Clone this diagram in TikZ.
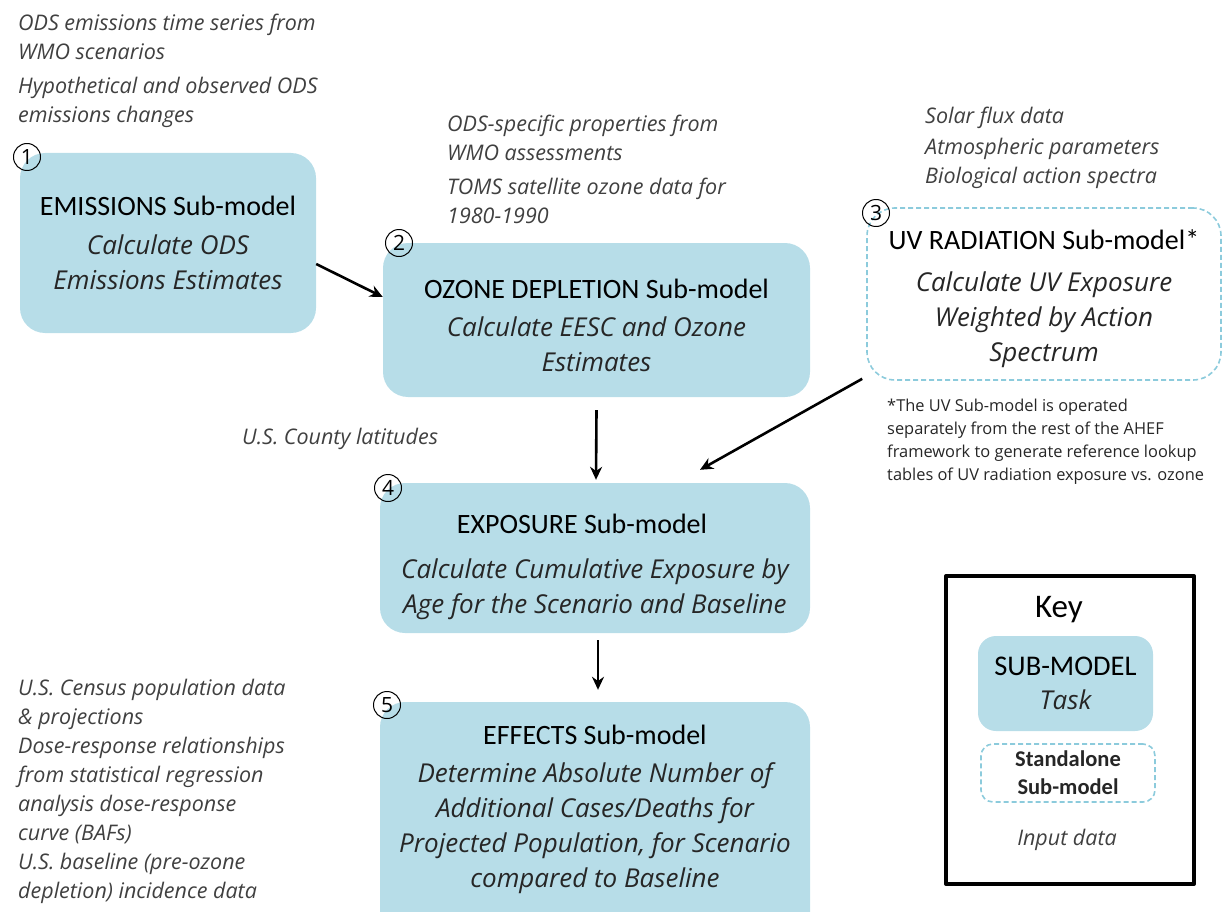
\documentclass[tikz,border=0pt]{standalone}
\usepackage{fontspec}
\setmainfont{Open Sans}
\newfontfamily\cali{Carlito}
\usetikzlibrary{positioning,calc,arrows.meta}
\definecolor{boxblue}{RGB}{183,221,232}
\definecolor{dashblue}{RGB}{140,203,220}
\definecolor{notegray}{RGB}{64,64,64}
\newcommand\taskfont{\itshape\fontsize{26}{35}\selectfont}
\newcommand\titlefont{\cali\upshape\color{black}\fontsize{28}{30}\selectfont}
\newcommand\notefont{\itshape\fontsize{21.5}{29}\selectfont}
\newcommand\numfont{\fontsize{21}{22}\selectfont}
\begin{document}
\begin{tikzpicture}[x=1pt, y=-1pt, line join=round, >={Stealth[length=13pt,width=12pt]},
	submodel/.style={fill=boxblue, rounded corners=25pt, align=center, inner sep=0pt, text=black!85, font=\taskfont},
	standalone/.style={draw=dashblue, line width=1.6pt, dash pattern=on 5pt off 3pt, rounded corners=28pt, align=center, inner sep=0pt, text=black!85, font=\taskfont},
	note/.style={anchor=north west, align=left, inner sep=0pt, text=notegray, font=\notefont},
	num/.style={draw, circle, line width=1pt, minimum size=27pt, inner sep=0pt, font=\numfont},
	flow/.style={->, line width=2.6pt}]
	\useasboundingbox (0,0) rectangle (1223,912);
	% sub-models
	\node[submodel, minimum width=296pt, minimum height=180pt] (b1) at (168,243)
		{{\titlefont EMISSIONS Sub-model}\\[4pt] Calculate ODS\\ Emissions Estimates};
	\node[submodel, minimum width=427pt, minimum height=154pt] (b2) at (596.5,320)
		{{\titlefont\rule{0pt}{30pt}OZONE DEPLETION Sub-model}\\[3pt] Calculate EESC and Ozone\\ Estimates};
	\node[standalone, minimum width=354pt, minimum height=172pt] (b3) at (1044,294)
		{{\titlefont\rule{0pt}{30pt}UV RADIATION Sub-model*}\\[7pt] Calculate UV Exposure\\ Weighted by Action\\ Spectrum};
	\node[submodel, minimum width=430pt, minimum height=150pt] (b4) at (595,558)
		{{\titlefont\rule{0pt}{37pt}EXPOSURE Sub-model\hspace*{26pt}}\\[10pt] Calculate Cumulative Exposure by\\ Age for the Scenario and Baseline};
	\fill[boxblue, rounded corners=25pt] (380,702) rectangle (810,940);
	\node[submodel, fill=none, minimum width=430pt, minimum height=210pt] (b5) at (595,807)
		{{\titlefont\rule{0pt}{25pt}EFFECTS Sub-model}\\[3pt] Determine Absolute Number of\\ Additional Cases/Deaths for\\ Projected Population, for Scenario\\ compared to Baseline};
	% numbers
	\node[num] (n1) at (27,157) {1};
	\node[num] (n2) at (399,243) {2};
	\node[num] (n3) at (876,213) {3};
	\node[num] (n4) at (388,488) {4};
	\node[num] (n5) at (387,705) {5};
	% input data
	\node[note] (in1) at (18,14) {ODS emissions time series from\\ WMO scenarios\\[5pt] Hypothetical and observed ODS\\ emissions changes};
	\node[note] (in2) at (447,115) {ODS-specific properties from\\ WMO assessments\\[5pt] TOMS satellite ozone data for\\ 1980-1990};
	\node[note] (in3) at (925,107) {Solar flux data\\[2pt] Atmospheric parameters\\ Biological action spectra};
	\node[note] (in4) at (242,428) {U.S. County latitudes};
	\node[note] (in5) at (18,679) {U.S. Census population data\\ \& projections\\ Dose-response relationships\\ from statistical regression\\ analysis dose-response\\ curve (BAFs)\\ U.S. baseline (pre-ozone\\ depletion) incidence data};
	\node[note, text=black!85, font=\fontsize{16.4}{23}\selectfont] (foot) at (887,399) {*The UV Sub-model is operated\\ separately from the rest of the AHEF\\ framework to generate reference lookup\\ tables of UV radiation exposure vs. ozone};
	% flow
	\draw[flow] ($(b1.east)+(0,21)$) -- ($(b2.west)+(0,-23)$);
	\draw[flow] ($(b2.south)+(0,13)$) -- ($(b4.north)+(1,-3)$);
	\draw[flow] ($(b3.south west)+(-4,-2)$) -- ($(b4.north)+(105,-13)$);
	\draw[flow] ($(b4.south)+(3,7)$) -- ($(b5.north)+(3,-12)$);
	% key
	\draw[line width=4pt] (946,576) rectangle (1194,884);
	\node[inner sep=0pt, font=\cali\fontsize{33}{35}\selectfont] (keytitle) at (1059,610) {Key};
	\node[submodel, rounded corners=18pt, minimum width=175pt, minimum height=95pt] (keysub) at (1065.5,683.5)
		{{\titlefont\fontsize{28.5}{30}\selectfont SUB-MODEL}\\[-1pt] Task};
	\node[standalone, rounded corners=12pt, minimum width=174pt, minimum height=58pt, font=\cali\bfseries\fontsize{22.5}{28}\selectfont] (keystand) at (1068,773) {Standalone\\ Sub-model};
	\node[inner sep=0pt, text=notegray, font=\notefont] (keyin) at (1067,840) {Input data};
\end{tikzpicture}
\end{document}
